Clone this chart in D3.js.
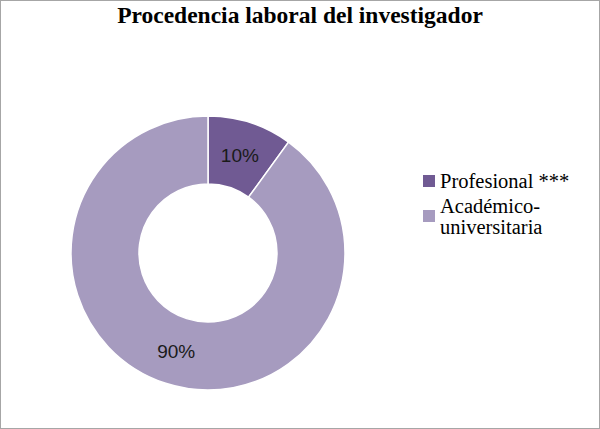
<!doctype html>
<html lang="es">
<head>
  <meta charset="UTF-8">
  <title>Procedencia laboral</title>
  <script src="https://cdn.jsdelivr.net/npm/d3@7/dist/d3.min.js"></script>
  <style>
    body { margin: 0; background: #fff; }
    svg { display: block; }
    .serif, .serif tspan { font-family: "Liberation Serif", "DejaVu Serif", serif; }
    .sans { font-family: "Liberation Sans", Arial, sans-serif; }
  </style>
</head>
<body>
<div id="chart"></div>
<script>
  // data
  var categories = ["Profesional ***", "Académico-universitaria"];
  var legendLines = [["Profesional ***"], ["Académico-", "universitaria"]];
  var values = [10, 90];
  var colors = ["#705A93", "#A69BBF"];

  var width = 600, height = 429;
  var cx = 208, cy = 253,
      outerR = 137, innerR = 69;

  var svg = d3.select("#chart").append("svg")
      .attr("width", width)
      .attr("height", height);

  // chart border
  svg.append("rect")
      .attr("x", 0.5).attr("y", 0.5)
      .attr("width", width - 1).attr("height", height - 1)
      .attr("fill", "#fff")
      .attr("stroke", "#A6A6A6");

  svg.append("text")
      .attr("class", "serif")
      .attr("x", 300).attr("y", 23)
      .attr("text-anchor", "middle")
      .style("font-weight", "bold")
      .style("font-size", "23.5px")
      .text("Procedencia laboral del investigador");

  var pie = d3.pie().sort(null).value(function(d) { return d; });
  var arcs = pie(values);

  var arc = d3.arc().innerRadius(innerR).outerRadius(outerR);

  var g = svg.append("g")
      .attr("transform", "translate(" + cx + "," + cy + ")");

  g.selectAll("path")
      .data(arcs)
      .enter().append("path")
      .attr("d", arc)
      .attr("fill", function(d, i) { return colors[i]; })
      .attr("stroke", "#fff")
      .attr("stroke-width", 1.5);

  // percentage labels sit on the ring centre
  var labelArc = d3.arc().innerRadius((innerR + outerR) / 2).outerRadius((innerR + outerR) / 2);
  var total = d3.sum(values);
  g.selectAll("text.lbl")
      .data(arcs)
      .enter().append("text")
      .attr("class", "lbl sans")
      .attr("transform", function(d) {
        var c = labelArc.centroid(d);
        return "translate(" + c[0] + "," + (c[1] + 7) + ")";
      })
      .attr("text-anchor", "middle")
      .style("font-size", "19px")
      .attr("fill", "#1a1a1a")
      .text(function(d) { return Math.round(d.value / total * 100) + "%"; });

  // legend
  var legendY = [175, 210];
  var legend = svg.selectAll("g.leg")
      .data(categories)
      .enter().append("g")
      .attr("class", "leg")
      .attr("transform", function(d, i) { return "translate(423," + legendY[i] + ")"; });

  legend.append("rect")
      .attr("width", 12).attr("height", 12)
      .attr("fill", function(d, i) { return colors[i]; });

  legend.append("text")
      .attr("class", "serif")
      .attr("x", 17).attr("y", 0)
      .style("font-size", "20.5px")
      .attr("fill", "#000")
      .each(function(d, i) {
        var t = d3.select(this);
        var lines = legendLines[i];
        var startY = lines.length === 1 ? 12.5 : 3;
        lines.forEach(function(line, j) {
          t.append("tspan")
              .attr("x", 17)
              .attr("y", startY + j * 21)
              .text(line);
        });
      });
</script>
</body>
</html>
